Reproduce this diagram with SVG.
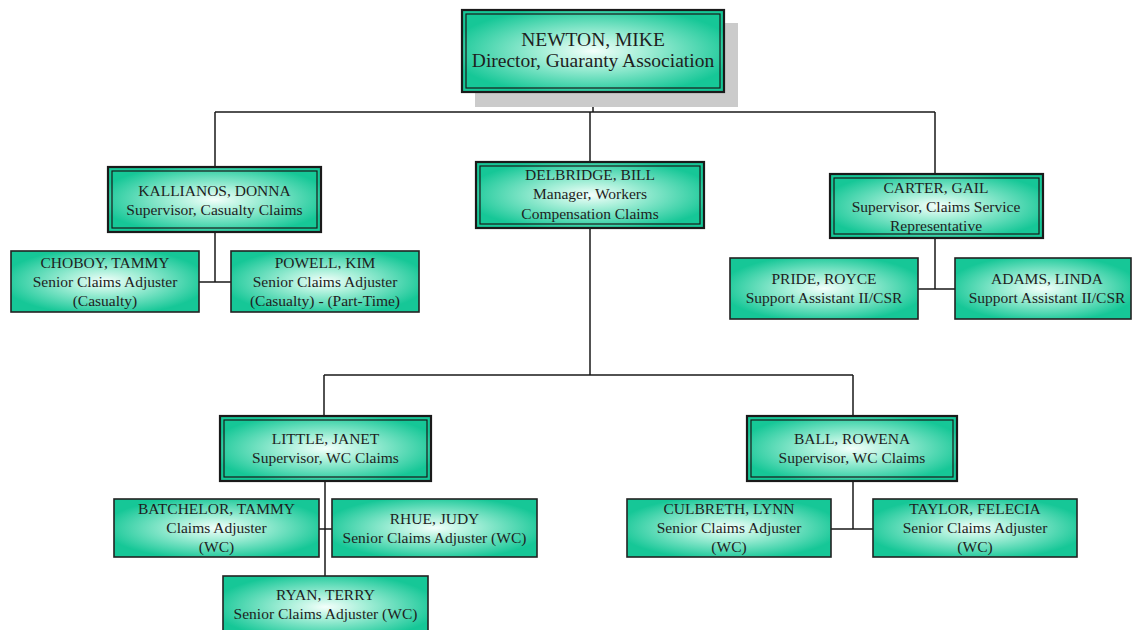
<svg xmlns="http://www.w3.org/2000/svg" width="1133" height="630" viewBox="0 0 1133 630">
  <defs>
    <radialGradient id="fillGlow" cx="50%" cy="50%" r="55%">
      <stop offset="0%" stop-color="#f4fffb"/>
      <stop offset="35%" stop-color="#a6efd8"/>
      <stop offset="100%" stop-color="#16c797"/>
    </radialGradient>
  </defs>
  <style>
    .box { fill: url(#fillGlow); stroke: #222; stroke-width: 1.6; }
    .frame { fill: url(#fillGlow); stroke: #1a1a1a; stroke-width: 2.2; }
    .inner { fill: none; stroke: #1a1a1a; stroke-width: 1.2; }
    .shadow { fill: #cbcbcb; }
    .link { stroke: #1a1a1a; stroke-width: 1.5; fill: none; }
    text { font-family: "Liberation Serif", "DejaVu Serif", serif; fill: #1e1e1e; text-anchor: middle; font-size: 15.5px; }
    .big { font-size: 19.5px; }
  </style>
  <rect width="1133" height="630" fill="#fff"/>

  <!-- connectors -->
  <g id="connectors">
    <path class="link" d="M593 92 V112 M215 112 H935 M215 112 V167 M590 112 V162 M935 112 V174"/>
    <path class="link" d="M215 232 V282 M199 282 H231"/>
    <path class="link" d="M935 238 V289 M918 289 H955"/>
    <path class="link" d="M590 228 V375 M324 375 H853 M324 375 V416 M853 375 V416"/>
    <path class="link" d="M325 481 V576 M319 529 H332"/>
    <path class="link" d="M853 481 V529 M831 529 H873"/>
  </g>

  <!-- director -->
  <g id="newton">
    <rect class="shadow" x="475" y="23" width="263" height="84"/>
    <rect class="frame" x="462" y="10" width="262" height="82"/>
    <rect class="inner" x="466" y="14" width="254" height="74"/>
    <text class="big" x="593" y="46">NEWTON, MIKE</text>
    <text class="big" x="593" y="67">Director, Guaranty Association</text>
  </g>

  <!-- casualty branch -->
  <g id="kallianos">
    <rect class="frame" x="108" y="167" width="213" height="65"/>
    <rect class="inner" x="112" y="171" width="205" height="57"/>
    <text x="214.5" y="196">KALLIANOS, DONNA</text>
    <text x="214.5" y="215">Supervisor, Casualty Claims</text>
  </g>
  <g id="choboy">
    <rect class="box" x="11" y="251" width="188" height="61"/>
    <text x="105" y="268">CHOBOY, TAMMY</text>
    <text x="105" y="287">Senior Claims Adjuster</text>
    <text x="105" y="306">(Casualty)</text>
  </g>
  <g id="powell">
    <rect class="box" x="231" y="251" width="188" height="61"/>
    <text x="325" y="268">POWELL, KIM</text>
    <text x="325" y="287">Senior Claims Adjuster</text>
    <text x="325" y="306">(Casualty) - (Part-Time)</text>
  </g>

  <!-- workers compensation branch -->
  <g id="delbridge">
    <rect class="frame" x="476" y="162" width="228" height="66"/>
    <rect class="inner" x="480" y="166" width="220" height="58"/>
    <text x="590" y="180">DELBRIDGE, BILL</text>
    <text x="590" y="199">Manager, Workers</text>
    <text x="590" y="219">Compensation Claims</text>
  </g>

  <!-- claims service branch -->
  <g id="carter">
    <rect class="frame" x="830" y="174" width="213" height="64"/>
    <rect class="inner" x="834" y="178" width="205" height="56"/>
    <text x="936" y="193">CARTER, GAIL</text>
    <text x="936" y="212">Supervisor, Claims Service</text>
    <text x="936" y="231">Representative</text>
  </g>
  <g id="pride">
    <rect class="box" x="730" y="258" width="188" height="61"/>
    <text x="824" y="284">PRIDE, ROYCE</text>
    <text x="824" y="303">Support Assistant II/CSR</text>
  </g>
  <g id="adams">
    <rect class="box" x="955" y="258" width="176" height="61"/>
    <text x="1047" y="284">ADAMS, LINDA</text>
    <text x="1047" y="303">Support Assistant II/CSR</text>
  </g>

  <!-- WC team: Little -->
  <g id="little">
    <rect class="frame" x="220" y="416" width="211" height="65"/>
    <rect class="inner" x="224" y="420" width="203" height="57"/>
    <text x="325.5" y="444">LITTLE, JANET</text>
    <text x="325.5" y="463">Supervisor, WC Claims</text>
  </g>
  <g id="batchelor">
    <rect class="box" x="114" y="499" width="205" height="58"/>
    <text x="216.5" y="514">BATCHELOR, TAMMY</text>
    <text x="216.5" y="533">Claims Adjuster</text>
    <text x="216.5" y="552">(WC)</text>
  </g>
  <g id="rhue">
    <rect class="box" x="332" y="499" width="205" height="58"/>
    <text x="434.5" y="524">RHUE, JUDY</text>
    <text x="434.5" y="543">Senior Claims Adjuster (WC)</text>
  </g>
  <g id="ryan">
    <rect class="box" x="223" y="576" width="205" height="62"/>
    <text x="325.5" y="600">RYAN, TERRY</text>
    <text x="325.5" y="619">Senior Claims Adjuster (WC)</text>
  </g>

  <!-- WC team: Ball -->
  <g id="ball">
    <rect class="frame" x="747" y="416" width="210" height="65"/>
    <rect class="inner" x="751" y="420" width="202" height="57"/>
    <text x="852" y="444">BALL, ROWENA</text>
    <text x="852" y="463">Supervisor, WC Claims</text>
  </g>
  <g id="culbreth">
    <rect class="box" x="627" y="499" width="204" height="58"/>
    <text x="729" y="514">CULBRETH, LYNN</text>
    <text x="729" y="533">Senior Claims Adjuster</text>
    <text x="729" y="552">(WC)</text>
  </g>
  <g id="taylor">
    <rect class="box" x="873" y="499" width="204" height="58"/>
    <text x="975" y="514">TAYLOR, FELECIA</text>
    <text x="975" y="533">Senior Claims Adjuster</text>
    <text x="975" y="552">(WC)</text>
  </g>
</svg>
